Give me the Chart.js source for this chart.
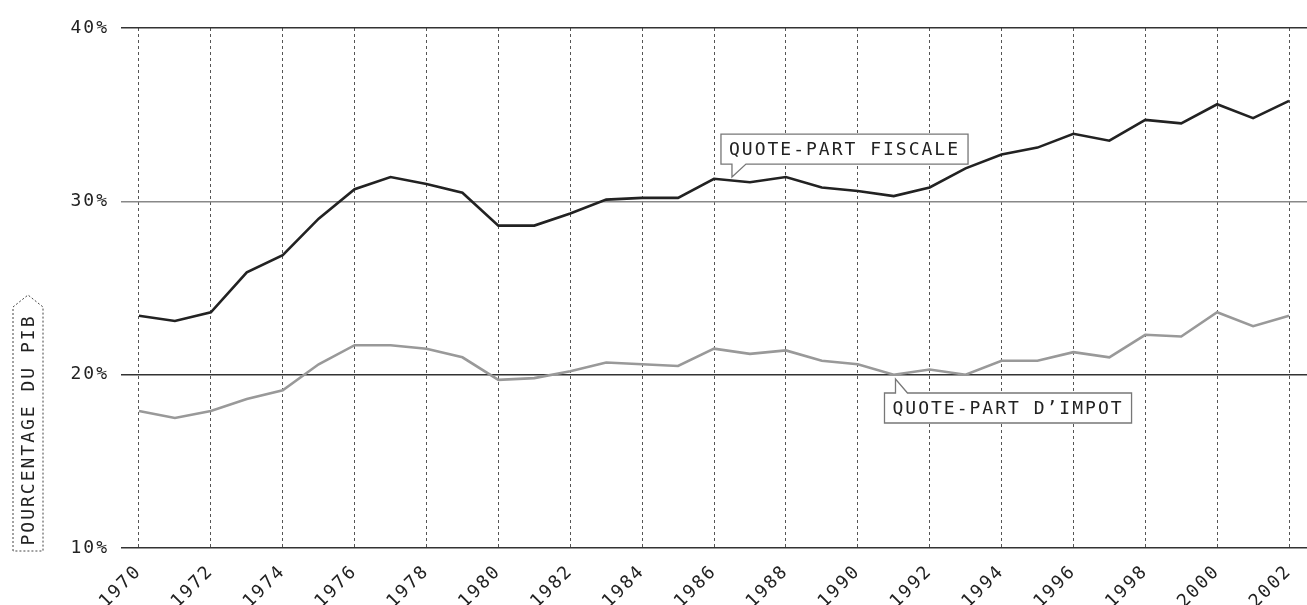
<!DOCTYPE html>
<html>
<head>
<meta charset="utf-8">
<script src="https://cdn.jsdelivr.net/npm/chart.js@4.4.0/dist/chart.umd.min.js"></script>
<style>
  html, body { margin: 0; padding: 0; background: #fff; }
</style>
</head>
<body>
<canvas id="quoteChart" width="1307" height="605"></canvas>
<script>
// donnees (% du PIB)
const years = [1970, 1971, 1972, 1973, 1974, 1975, 1976, 1977, 1978, 1979, 1980,
  1981, 1982, 1983, 1984, 1985, 1986, 1987, 1988, 1989, 1990, 1991, 1992,
  1993, 1994, 1995, 1996, 1997, 1998, 1999, 2000, 2001, 2002];
const quoteFiscale = [23.4, 23.1, 23.6, 25.9, 26.9, 29.0, 30.7, 31.4, 31.0, 30.5, 28.6,
  28.6, 29.3, 30.1, 30.2, 30.2, 31.3, 31.1, 31.4, 30.8, 30.6, 30.3, 30.8,
  31.9, 32.7, 33.1, 33.9, 33.5, 34.7, 34.5, 35.6, 34.8, 35.8];
const quoteImpot = [17.9, 17.5, 17.9, 18.6, 19.1, 20.6, 21.7, 21.7, 21.5, 21.0, 19.7,
  19.8, 20.2, 20.7, 20.6, 20.5, 21.5, 21.2, 21.4, 20.8, 20.6, 20.0, 20.3,
  20.0, 20.8, 20.8, 21.3, 21.0, 22.3, 22.2, 23.6, 22.8, 23.4];
const xTickYears = [1970, 1972, 1974, 1976, 1978, 1980, 1982, 1984, 1986, 1988, 1990,
  1992, 1994, 1996, 1998, 2000, 2002];
const yTickValues = [10, 20, 30, 40];

const labelFiscale = "QUOTE-PART FISCALE";
const labelImpot = "QUOTE-PART D\u2019IMPOT";
const axisTitle = "POURCENTAGE DU PIB";

const FONT = "'DejaVu Sans Mono', monospace";
const SPACING = "2px";

// bulle d'annotation avec une petite queue
function drawCallout(ctx, text, tx, ty, dir) {
  ctx.font = "18px " + FONT;
  const w = ctx.measureText(text).width + 16;
  const h = 30;
  const left = tx - 11;
  const right = left + w;
  const top = dir === "down" ? ty - 43 : ty + 14;
  const bottom = top + h;
  ctx.beginPath();
  ctx.moveTo(left, top);
  if (dir === "up") {
    ctx.lineTo(tx, top);
    ctx.lineTo(tx, ty);
    ctx.lineTo(tx + 12, top);
  }
  ctx.lineTo(right, top);
  ctx.lineTo(right, bottom);
  if (dir === "down") {
    ctx.lineTo(tx + 14, bottom);
    ctx.lineTo(tx, ty);
    ctx.lineTo(tx, bottom);
  }
  ctx.lineTo(left, bottom);
  ctx.closePath();
  ctx.fillStyle = "#ffffff";
  ctx.fill();
  ctx.strokeStyle = "#777";
  ctx.lineWidth = 1.3;
  ctx.stroke();
  ctx.fillStyle = "#222";
  ctx.textAlign = "left";
  ctx.textBaseline = "middle";
  ctx.fillText(text, left + 8, (top + bottom) / 2 + 1);
}

const decorPlugin = {
  id: "decor",
  beforeUpdate(chart) { chart.ctx.letterSpacing = SPACING; },
  beforeDraw(chart) { chart.ctx.letterSpacing = SPACING; },
  afterDraw(chart) {
    const ctx = chart.ctx;
    const xs = chart.scales.x;
    const ys = chart.scales.y;
    ctx.save();
    ctx.letterSpacing = SPACING;

    drawCallout(ctx, labelFiscale, xs.getPixelForValue(1986.5), ys.getPixelForValue(31.4), "down");
    drawCallout(ctx, labelImpot, xs.getPixelForValue(1991.05), ys.getPixelForValue(19.75), "up");

    // titre de l'axe Y dans un cadre pointille en fleche
    const bottom = ys.getPixelForValue(10) + 3;
    const tip = bottom - 256;
    const l = 13, r = 43, cx = 28;
    ctx.beginPath();
    ctx.moveTo(l, bottom);
    ctx.lineTo(l, tip + 12);
    ctx.lineTo(cx, tip);
    ctx.lineTo(r, tip + 12);
    ctx.lineTo(r, bottom);
    ctx.closePath();
    ctx.setLineDash([2, 2]);
    ctx.strokeStyle = "#444";
    ctx.lineWidth = 1;
    ctx.stroke();
    ctx.setLineDash([]);
    ctx.translate(cx + 1, (bottom + tip) / 2 + 7);
    ctx.rotate(-Math.PI / 2);
    ctx.font = "18px " + FONT;
    ctx.fillStyle = "#222";
    ctx.textAlign = "center";
    ctx.textBaseline = "middle";
    ctx.fillText(axisTitle, 0, 0);
    ctx.restore();
  }
};

const ctxQuote = document.getElementById("quoteChart");
const quoteChart = new Chart(ctxQuote, {
  type: "line",
  data: {
    datasets: [
      {
        label: labelFiscale,
        data: years.map((y, i) => ({ x: y, y: quoteFiscale[i] })),
        borderColor: "#222",
        borderWidth: 2.6,
        pointRadius: 0,
        tension: 0,
      },
      {
        label: labelImpot,
        data: years.map((y, i) => ({ x: y, y: quoteImpot[i] })),
        borderColor: "#999",
        borderWidth: 2.6,
        pointRadius: 0,
        tension: 0,
      },
    ],
  },
  options: {
    responsive: false,
    animation: false,
    layout: { padding: { top: 28, left: 71, right: 0, bottom: 0 } },
    plugins: {
      legend: { display: false },
      tooltip: { enabled: false },
    },
    scales: {
      x: {
        type: "linear",
        min: 1969.5,
        max: 2002.5,
        afterBuildTicks: (scale) => {
          scale.ticks = xTickYears.map((v) => ({ value: v }));
        },
        afterFit: (scale) => {
          scale.height = 57;
          scale.paddingLeft = 0;
          scale.paddingRight = 0;
        },
        border: { display: false, dash: [3, 3] },
        grid: {
          color: "#555",
          lineWidth: 1,
          drawTicks: false,
        },
        ticks: {
          maxRotation: 45,
          minRotation: 45,
          padding: 13,
          color: "#222",
          font: { family: FONT, size: 18 },
          callback: (v) => String(v),
        },
      },
      y: {
        min: 10,
        max: 40,
        afterBuildTicks: (scale) => {
          scale.ticks = yTickValues.map((v) => ({ value: v }));
        },
        afterFit: (scale) => { scale.width = 50; },
        border: { display: false },
        grid: {
          color: (c) => (c.tick && c.tick.value === 30 ? "#888" : "#333"),
          lineWidth: 1.5,
          drawTicks: false,
        },
        ticks: {
          padding: 12,
          color: "#222",
          font: { family: FONT, size: 18 },
          callback: (v) => v + "%",
        },
      },
    },
  },
  plugins: [decorPlugin],
});
</script>
</body>
</html>
